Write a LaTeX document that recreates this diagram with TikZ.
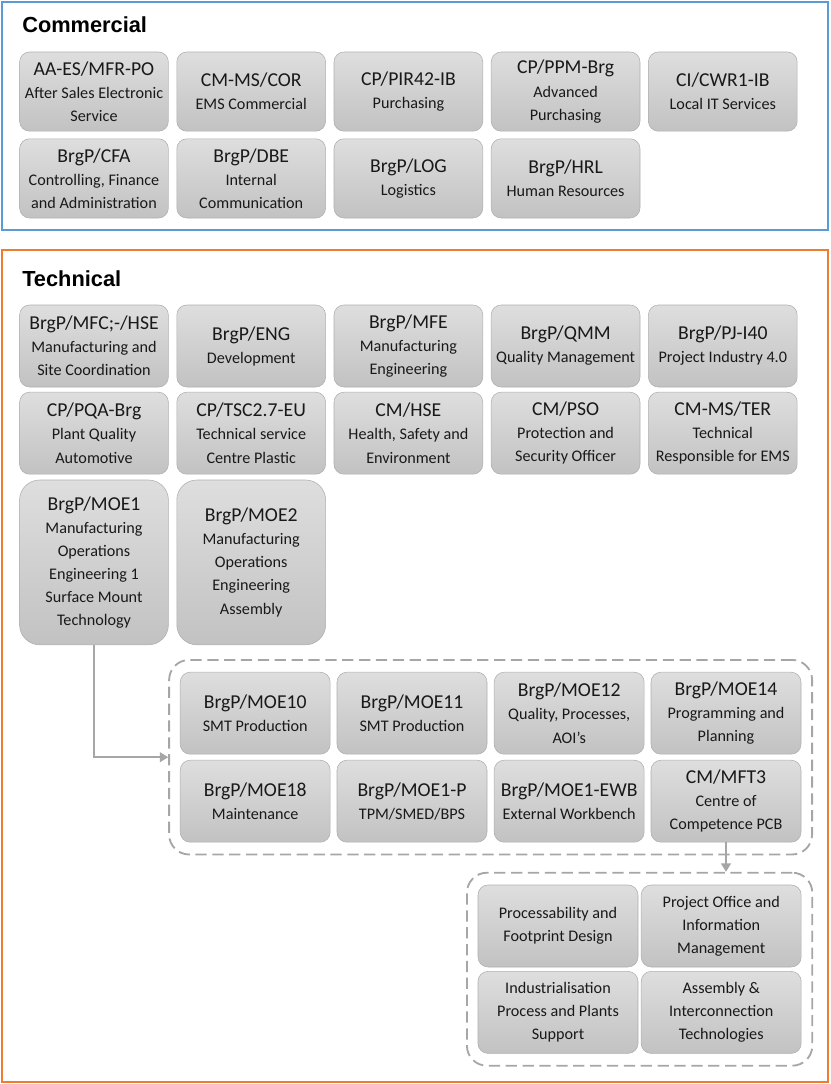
\documentclass[tikz,border=0pt]{standalone}
\usepackage{fontspec}
\setmainfont{Carlito}
\newfontfamily\headfont{Liberation Sans}
\usepackage{xcolor}
\usepackage{tikz}
\usetikzlibrary{positioning,arrows.meta,calc,fit}
\definecolor{commframe}{RGB}{91,155,213}
\definecolor{techframe}{RGB}{237,125,49}
\definecolor{boxtop}{RGB}{222,222,222}
\definecolor{boxbot}{RGB}{194,194,194}
\definecolor{boxline}{RGB}{175,175,175}
\definecolor{groupline}{RGB}{166,166,166}
\definecolor{boxtext}{RGB}{25,25,25}
\newcommand{\dept}[1]{{\fontsize{14}{16.4}\selectfont #1}}

\begin{document}
\begin{tikzpicture}[
    box/.style={rectangle, rounded corners=0.25cm, minimum width=3.72cm, minimum height=2.05cm, inner xsep=1pt, align=center, draw=boxline, top color=boxtop, bottom color=boxbot, text=boxtext, font=\fontsize{11.5}{16.4}\selectfont},
    tallbox/.style={box, minimum height=4.12cm, rounded corners=0.5cm},
    widebox/.style={box, minimum width=4.0cm},
    group/.style={draw=groupline, line width=1.3pt, dash pattern=on 8pt off 4pt, rounded corners=0.5cm, inner xsep=0.27cm, inner ysep=0.3cm},
    frame/.style={line width=1.4pt},
    title/.style={anchor=west, inner sep=0pt, font=\headfont\bfseries\fontsize{15.5}{18}\selectfont},
    link/.style={draw=groupline, line width=1.3pt, -{Triangle[width=7pt,length=6pt]}},
]
    \useasboundingbox (0,0) rectangle (20.75,-27.1);

    % Commercial
    \draw[frame, commframe] (0.04,-0.04) rectangle (20.71,-5.76);
    \node[title] (comm) at (0.55,-0.63) {Commercial};
    \node[box, minimum height=1.98cm] (aaes) at (2.35,-2.29) {\dept{AA-ES/MFR-PO}\\After Sales Electronic\\Service};
    \node[box, minimum height=1.98cm] (cmcor) at (6.28,-2.29) {\dept{CM-MS/COR}\\EMS Commercial};
    \node[box, minimum height=1.98cm] (cppir) at (10.21,-2.29) {\dept{CP/PIR42-IB}\\Purchasing};
    \node[box, minimum height=1.98cm] (cpppm) at (14.14,-2.29) {\dept{CP/PPM-Brg}\\Advanced\\Purchasing};
    \node[box, minimum height=1.98cm] (cicwr) at (18.07,-2.29) {\dept{CI/CWR1-IB}\\Local IT Services};
    \node[box, minimum height=1.98cm] (cfa) at (2.35,-4.46) {\dept{BrgP/CFA}\\Controlling, Finance\\and Administration};
    \node[box, minimum height=1.98cm] (dbe) at (6.28,-4.46) {\dept{BrgP/DBE}\\Internal\\Communication};
    \node[box, minimum height=1.98cm] (log) at (10.21,-4.46) {\dept{BrgP/LOG}\\Logistics};
    \node[box, minimum height=1.98cm] (hrl) at (14.14,-4.46) {\dept{BrgP/HRL}\\Human Resources};

    % Technical
    \draw[frame, techframe] (0.04,-6.26) rectangle (20.71,-27.05);
    \node[title] (tech) at (0.55,-6.98) {Technical};
    \node[box] (mfc) at (2.35,-8.65) {\dept{BrgP/MFC;-/HSE}\\Manufacturing and\\Site Coordination};
    \node[box] (eng) at (6.28,-8.65) {\dept{BrgP/ENG}\\Development};
    \node[box] (mfe) at (10.21,-8.65) {\dept{BrgP/MFE}\\Manufacturing\\Engineering};
    \node[box] (qmm) at (14.14,-8.65) {\dept{BrgP/QMM}\\Quality Management};
    \node[box] (pji) at (18.07,-8.65) {\dept{BrgP/PJ-I40}\\Project Industry 4.0};
    \node[box] (pqa) at (2.35,-10.83) {\dept{CP/PQA-Brg}\\Plant Quality\\Automotive};
    \node[box] (tsc) at (6.28,-10.83) {\dept{CP/TSC2.7-EU}\\Technical service\\Centre Plastic};
    \node[box] (hse) at (10.21,-10.83) {\dept{CM/HSE}\\Health, Safety and\\Environment};
    \node[box] (pso) at (14.14,-10.83) {\dept{CM/PSO}\\Protection and\\Security Officer};
    \node[box] (ter) at (18.07,-10.83) {\dept{CM-MS/TER}\\Technical\\Responsible for EMS};
    \node[tallbox] (moe1) at (2.35,-14.06) {\dept{BrgP/MOE1}\\Manufacturing\\Operations\\Engineering 1\\Surface Mount\\Technology};
    \node[tallbox] (moe2) at (6.28,-14.06) {\dept{BrgP/MOE2}\\Manufacturing\\Operations\\Engineering\\Assembly};

    % MOE1 teams
    \node[box, minimum width=3.75cm] (moe10) at (6.38,-17.83) {\dept{BrgP/MOE10}\\SMT Production};
    \node[box, minimum width=3.75cm] (moe11) at (10.30,-17.83) {\dept{BrgP/MOE11}\\SMT Production};
    \node[box, minimum width=3.75cm] (moe12) at (14.23,-17.83) {\dept{BrgP/MOE12}\\Quality, Processes,\\AOI’s};
    \node[box, minimum width=3.75cm] (moe14) at (18.15,-17.83) {\dept{BrgP/MOE14}\\Programming and\\Planning};
    \node[box, minimum width=3.75cm] (moe18) at (6.38,-20.03) {\dept{BrgP/MOE18}\\Maintenance};
    \node[box, minimum width=3.75cm] (moep) at (10.30,-20.03) {\dept{BrgP/MOE1-P}\\TPM/SMED/BPS};
    \node[box, minimum width=3.75cm] (ewb) at (14.23,-20.03) {\dept{BrgP/MOE1-EWB}\\External Workbench};
    \node[box, minimum width=3.75cm] (mft3) at (18.15,-20.03) {\dept{CM/MFT3}\\Centre of\\Competence PCB};
    \node[group, fit=(moe10)(moe14)(moe18)(mft3)] (teams) {};

    % MFT3 competences
    \node[widebox] (pfd) at (13.95,-23.15) {Processability and\\Footprint Design};
    \node[widebox] (pim) at (18.03,-23.15) {Project Office and\\Information\\Management};
    \node[widebox] (ipp) at (13.95,-25.31) {Industrialisation\\Process and Plants\\Support};
    \node[widebox] (ait) at (18.03,-25.31) {Assembly \&\\Interconnection\\Technologies};
    \node[group, fit=(pfd)(pim)(ipp)(ait)] (comp) {};

    \draw[link] (moe1.south) |- (teams.west);
    \draw[link] (mft3.south) -- (mft3.south |- comp.north);
\end{tikzpicture}
\end{document}
